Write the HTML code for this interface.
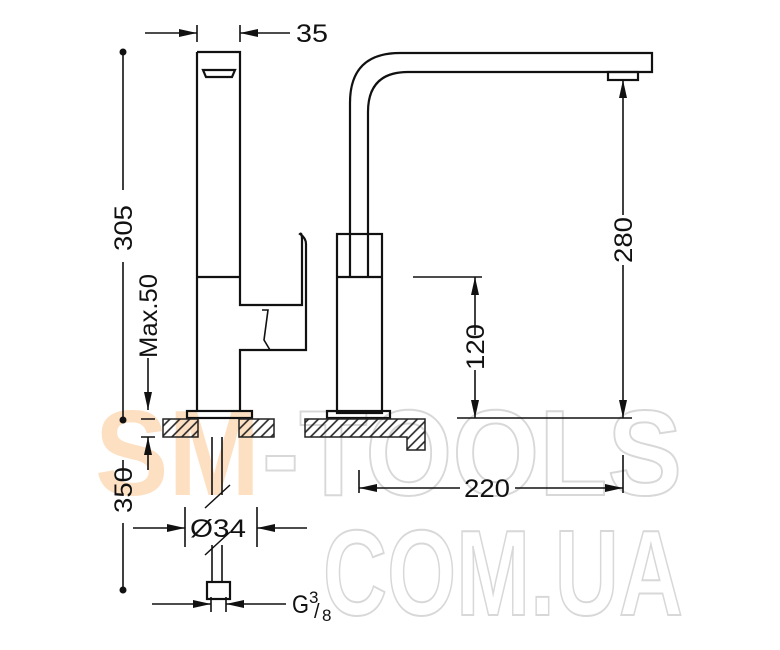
<!DOCTYPE html>
<html><head><meta charset="utf-8"><style>html,body{margin:0;padding:0;background:#fff}svg{display:block}</style></head>
<body>
<svg width="780" height="650" viewBox="0 0 780 650" xmlns="http://www.w3.org/2000/svg">
<defs>
<pattern id="h" width="7" height="7" patternUnits="userSpaceOnUse" patternTransform="rotate(45)">
<line x1="3.5" y1="0" x2="3.5" y2="7" stroke="#222" stroke-width="1.6"/>
</pattern>
<marker id="a" viewBox="0 0 10 10" refX="10" refY="5" markerWidth="18" markerHeight="8" markerUnits="userSpaceOnUse" orient="auto-start-reverse" preserveAspectRatio="none"><path d="M0,0L10,5L0,10z" fill="#111"/></marker>
</defs>
<!-- watermark -->
<g font-family="Liberation Sans, sans-serif" font-weight="bold">
<text x="95" y="495" font-size="122" fill="#fde0c2" textLength="165" lengthAdjust="spacingAndGlyphs">SM</text>
<text x="262" y="495" font-size="122" fill="none" stroke="#d8d8d8" stroke-width="2" textLength="420" lengthAdjust="spacingAndGlyphs">-TOOLS</text>
<text x="323" y="615" font-size="122" fill="none" stroke="#d8d8d8" stroke-width="2" textLength="360" lengthAdjust="spacingAndGlyphs">COM.UA</text>
</g>
<g fill="none" stroke="#111" stroke-width="2.2">
<!-- left faucet -->
<path d="M197,52H240V305H302V240Q302,232 300,234 Q306,238 306,244V350H240V410M197,52V410M197,277H240"/>
<path d="M203,70H235L232,77H206Z"/>
<path d="M262,310L268,310L264,340L270,350" stroke-width="1.6"/>
<rect x="187" y="411" width="65" height="7"/>
<!-- right faucet -->
<rect x="337" y="234" width="45" height="179"/>
<path d="M337,277H382"/>
<path d="M350,277V103Q350,53 400,53H652V72H408Q368,72 368,112V277"/>
<rect x="608" y="72" width="30" height="8"/>
<rect x="327" y="411" width="63" height="7"/>
<!-- pipe -->
<path d="M212,437V495M222,437V495M212,545V582M222,545V582" stroke-width="1.6"/>
<path d="M205,508L230,485M205,555L230,532" stroke-width="1.5"/>
<rect x="207" y="582" width="23" height="17"/>
</g>
<!-- counters -->
<g stroke="#222" stroke-width="1.5">
<rect x="163" y="419" width="35" height="18" fill="url(#h)"/>
<rect x="239" y="419" width="35" height="18" fill="url(#h)"/>
<path d="M305,419H425V450H407V437H305Z" fill="url(#h)"/>
</g>
<!-- dimensions -->
<g stroke="#111" stroke-width="1.6" fill="none">
<path d="M145,33H197" marker-end="url(#a)"/><path d="M197,25V42M240,25V42"/><path d="M290,33H240" marker-end="url(#a)"/>
<path d="M123,52V190M123,262V420M123,460V480M123,523V590"/>
<path d="M148,358V410" marker-end="url(#a)"/><path d="M141,419H155M141,437H155"/><path d="M148,470V437" marker-end="url(#a)"/>
<path d="M185,507V547M257,507V547"/><path d="M133,528H185" marker-end="url(#a)"/><path d="M307,528H257" marker-end="url(#a)"/>
<path d="M211,597V612M226,597V612"/><path d="M152,604H211" marker-end="url(#a)"/><path d="M286,604H226" marker-end="url(#a)"/>
<path d="M413,277H482"/><path d="M475,335V277" marker-end="url(#a)"/><path d="M475,370V418" marker-end="url(#a)"/>
<path d="M457,418H632"/>
<path d="M623,215V80" marker-end="url(#a)"/><path d="M623,265V418" marker-end="url(#a)"/>
<path d="M359,470V493M623,455V493"/><path d="M460,488H359" marker-end="url(#a)"/><path d="M515,488H623" marker-end="url(#a)"/>
</g>
<g fill="#111"><circle cx="123" cy="52" r="3.5"/><circle cx="123" cy="420" r="3.5"/><circle cx="123" cy="590" r="3.5"/></g>
<g font-family="Liberation Sans, sans-serif" font-size="25" fill="#111">
<text x="296" y="42" textLength="32" lengthAdjust="spacingAndGlyphs">35</text>
<text transform="translate(132,228) rotate(-90)" text-anchor="middle" textLength="46" lengthAdjust="spacingAndGlyphs">305</text>
<text transform="translate(157,316) rotate(-90)" text-anchor="middle" textLength="84" lengthAdjust="spacingAndGlyphs">Max.50</text>
<text transform="translate(132,490) rotate(-90)" text-anchor="middle" textLength="46" lengthAdjust="spacingAndGlyphs">350</text>
<text x="190" y="537" textLength="56" lengthAdjust="spacingAndGlyphs">Ø34</text>
<text x="292" y="613" textLength="17" lengthAdjust="spacingAndGlyphs">G</text>
<text x="309" y="603" font-size="17">3</text>
<text x="314" y="618" font-size="20">/</text>
<text x="322" y="621" font-size="17">8</text>
<text transform="translate(484,347) rotate(-90)" text-anchor="middle" textLength="46" lengthAdjust="spacingAndGlyphs">120</text>
<text transform="translate(632,240) rotate(-90)" text-anchor="middle" textLength="46" lengthAdjust="spacingAndGlyphs">280</text>
<text x="487" y="497" text-anchor="middle" textLength="46" lengthAdjust="spacingAndGlyphs">220</text>
</g>
</svg>
</body></html>
